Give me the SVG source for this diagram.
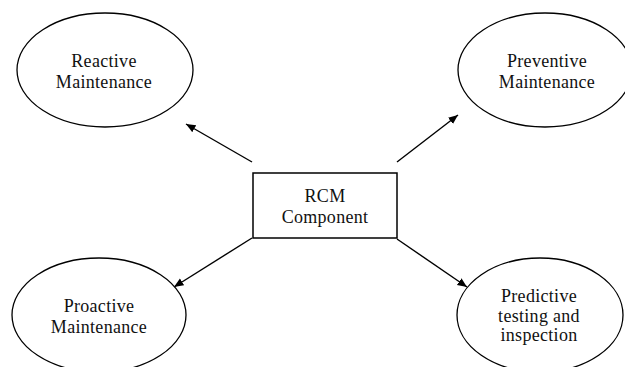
<svg xmlns="http://www.w3.org/2000/svg" width="625" height="367" viewBox="0 0 625 367">
  <style>
    .shape { fill: #ffffff; stroke: #000000; stroke-width: 1.3; }
    .box { fill: #ffffff; stroke: #000000; stroke-width: 1.5; }
    .label { font-family: "Liberation Serif", "Times New Roman", serif; font-size: 18px; fill: #111111; text-anchor: middle; letter-spacing: 0.3px; }
    .edge { fill: none; stroke: #000000; stroke-width: 1.4; marker-end: url(#arrow); }
  </style>
  <defs>
    <marker id="arrow" markerUnits="userSpaceOnUse" markerWidth="11" markerHeight="9" refX="9.5" refY="4" orient="auto">
      <path d="M0,0 L9.5,4 L0,8 z" fill="#000000"/>
    </marker>
  </defs>
  <rect width="625" height="367" fill="#ffffff"/>

  <g id="connectors">
    <line class="edge" x1="252" y1="162" x2="186" y2="124"/>
    <line class="edge" x1="397" y1="162" x2="458" y2="115"/>
    <line class="edge" x1="252" y1="238" x2="174" y2="287"/>
    <line class="edge" x1="397" y1="239" x2="467" y2="287"/>
  </g>

  <g id="rcm-component">
    <rect class="box" x="253" y="173" width="144" height="65"/>
    <text class="label" x="325" y="202">RCM</text>
    <text class="label" x="325" y="223">Component</text>
  </g>

  <g id="reactive-maintenance">
    <ellipse class="shape" cx="105" cy="70" rx="88" ry="57"/>
    <text class="label" x="104" y="67">Reactive</text>
    <text class="label" x="104" y="88">Maintenance</text>
  </g>

  <g id="preventive-maintenance">
    <ellipse class="shape" cx="545" cy="70" rx="87" ry="57"/>
    <text class="label" x="547" y="67">Preventive</text>
    <text class="label" x="547" y="88">Maintenance</text>
  </g>

  <g id="proactive-maintenance">
    <ellipse class="shape" cx="99" cy="315" rx="87" ry="57"/>
    <text class="label" x="99" y="312">Proactive</text>
    <text class="label" x="99" y="333">Maintenance</text>
  </g>

  <g id="predictive-testing">
    <ellipse class="shape" cx="540" cy="315" rx="83" ry="57"/>
    <text class="label" x="539" y="302">Predictive</text>
    <text class="label" x="539" y="322">testing and</text>
    <text class="label" x="539" y="341">inspection</text>
  </g>
</svg>
